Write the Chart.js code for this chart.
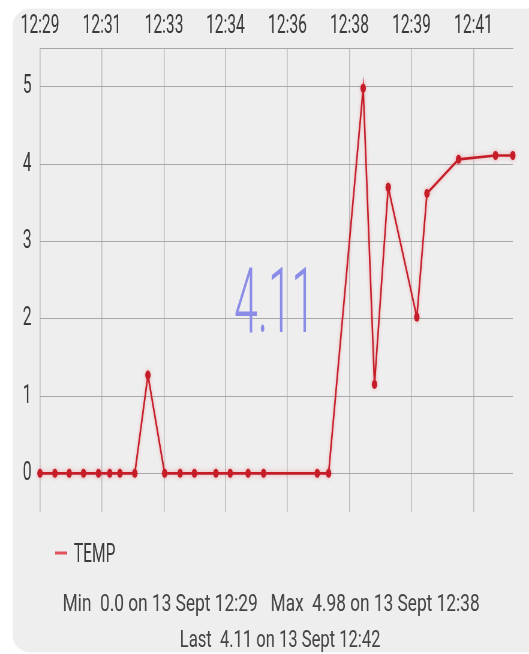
<!DOCTYPE html>
<html>
<head>
<meta charset="utf-8">
<script src="https://cdn.jsdelivr.net/npm/chart.js@4.4.1/dist/chart.umd.min.js"></script>
<style>
  html, body { margin: 0; padding: 0; background: #fff; overflow: hidden; }
  body { width: 529px; height: 654px; position: relative; }
  #panel { position: absolute; left: 14px; top: 10px; width: 560px; height: 641px; background: #eeeeee; border-radius: 16px; box-shadow: 0 0 3px rgba(0,0,0,0.2); }
  /* chart is drawn wide and squeezed sideways, like the narrow look of the original */
  #wrap { position: absolute; left: 0; top: 0; width: 882px; height: 654px; transform: scaleX(0.5998); transform-origin: 0 0; }
</style>
</head>
<body>
<div id="panel"></div>
<div id="wrap"><canvas id="tempChart"></canvas></div>
<script>
const seriesName = 'TEMP';
const dayLabel = '13 Sept';

const times = [
    '12:29:00', '12:29:25', '12:29:49', '12:30:13', '12:30:38', '12:30:57', '12:31:14', '12:31:39',
    '12:32:01', '12:32:29', '12:32:55', '12:33:19', '12:33:55', '12:34:19', '12:34:49', '12:35:15',
    '12:36:45', '12:37:04', '12:38:02', '12:38:21', '12:38:44', '12:39:32', '12:39:49', '12:40:42',
    '12:41:44', '12:42:13'
];
const temps = [
    0, 0, 0, 0, 0, 0, 0, 0,
    1.27, 0, 0, 0, 0, 0, 0, 0,
    0, 0, 4.98, 1.15, 3.70, 2.02, 3.62, 4.06,
    4.11, 4.11
];

const tickTimes = ['12:29:00', '12:30:44', '12:32:28', '12:34:11', '12:35:55', '12:37:39', '12:39:23', '12:41:07'];
const tickLabels = ['12:29', '12:31', '12:33', '12:34', '12:36', '12:38', '12:39', '12:41'];
const yTicks = [0, 1, 2, 3, 4, 5];

const lineColor = '#c41d28';

function toSec(t) {
    const [h, m, s] = t.split(':').map(Number);
    return h * 3600 + m * 60 + s;
}

function fmt(v) {
    return Number.isInteger(v) ? v.toFixed(1) : String(v);
}

function drawText(ctx, text, x, y, font, color, align, stretch) {
    ctx.save();
    ctx.translate(x, y);
    ctx.scale(stretch, 1);
    ctx.font = font;
    ctx.fillStyle = color;
    ctx.textAlign = align;
    ctx.textBaseline = 'alphabetic';
    ctx.fillText(text, 0, 0);
    ctx.restore();
}

// big last value, legend and the min / max / last lines
const summaryPlugin = {
    id: 'summary',
    beforeDatasetDraw(chart) {
        chart.ctx.save();
        chart.ctx.shadowColor = 'rgba(235, 70, 80, 0.4)';
        chart.ctx.shadowBlur = 5;
    },
    afterDatasetDraw(chart) {
        chart.ctx.restore();
    },
    afterDraw(chart) {
        const ctx = chart.ctx;
        const area = chart.chartArea;
        const n = temps.length;
        const last = temps[n - 1];

        drawText(ctx, fmt(last), (area.left + area.right) / 2 - 3, 332, '300 91px Roboto', '#8b8ce8', 'center', 0.78);

        ctx.save();
        ctx.strokeStyle = '#e0535e';
        ctx.lineWidth = 3;
        ctx.beginPath();
        ctx.moveTo(92, 553);
        ctx.lineTo(112, 553);
        ctx.stroke();
        ctx.restore();
        drawText(ctx, seriesName, 123, 562, '26px Roboto', '#3a3a3a', 'left', 1);

        let minI = 0, maxI = 0;
        temps.forEach((v, i) => {
            if (v < temps[minI]) minI = i;
            if (v > temps[maxI]) maxI = i;
        });
        const hm = i => times[i].slice(0, 5);
        const line1 = `Min  ${fmt(temps[minI])} on ${dayLabel} ${hm(minI)}   Max  ${fmt(temps[maxI])} on ${dayLabel} ${hm(maxI)}`;
        const line2 = `Last  ${fmt(last)} on ${dayLabel} ${hm(n - 1)}`;
        drawText(ctx, line1, 452, 611, '24px Roboto', '#444', 'center', 1.2);
        drawText(ctx, line2, 467, 647, '24px Roboto', '#444', 'center', 1.15);
    }
};

const ctx = document.getElementById('tempChart').getContext('2d');
new Chart(ctx, {
    type: 'line',
    data: {
        datasets: [{
            label: seriesName,
            data: times.map((t, i) => ({ x: toSec(t), y: temps[i] })),
            borderColor: lineColor,
            backgroundColor: lineColor,
            borderWidth: 2.6,
            pointRadius: 4.5,
            pointBorderWidth: 0,
            pointBackgroundColor: lineColor,
            tension: 0,
            clip: false
        }]
    },
    options: {
        responsive: true,
        maintainAspectRatio: false,
        animation: false,
        layout: { padding: { left: 0, right: 27, top: 0, bottom: 142 } },
        plugins: {
            legend: { display: false },
            tooltip: { enabled: false }
        },
        scales: {
            x: {
                type: 'linear',
                position: 'top',
                min: toSec(times[0]),
                max: toSec(times[times.length - 1]),
                afterBuildTicks: axis => { axis.ticks = tickTimes.map(t => ({ value: toSec(t) })); },
                afterFit: axis => { axis.height = 48; },
                ticks: {
                    autoSkip: false,
                    maxRotation: 0,
                    padding: 6,
                    color: '#3a3a3a',
                    font: { family: 'Roboto', size: 26 },
                    callback: (v, i) => tickLabels[i]
                },
                grid: { color: '#bcbcbc', lineWidth: 1.6, drawTicks: false },
                border: { display: true, color: '#a6a6a6', width: 1 }
            },
            y: {
                min: -0.5,
                max: 5.5,
                afterBuildTicks: axis => { axis.ticks = yTicks.map(v => ({ value: v })); },
                afterFit: axis => { axis.width = 66.7; },
                ticks: {
                    padding: 14,
                    color: '#3a3a3a',
                    font: { family: 'Roboto', size: 26 }
                },
                grid: { color: '#a8a8a8', lineWidth: 1, drawTicks: false },
                border: { display: false }
            }
        }
    },
    plugins: [summaryPlugin]
});
</script>
</body>
</html>
